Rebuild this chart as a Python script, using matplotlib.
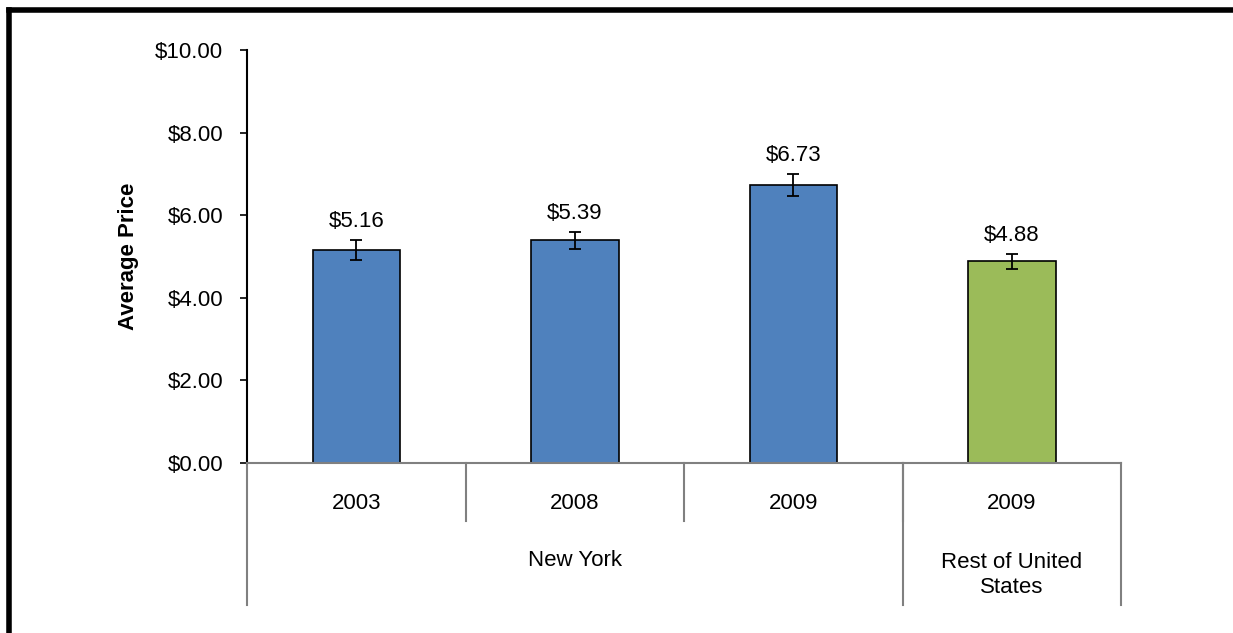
import numpy as np
import matplotlib.pyplot as plt
from matplotlib.lines import Line2D

plt.rcParams['font.family'] = ['Liberation Sans', 'DejaVu Sans']

years = ["2003", "2008", "2009", "2009"]
groups = ["New York", "Rest of United\nStates"]
group_sizes = [3, 1]
prices = [5.16, 5.39, 6.73, 4.88]
errors = [0.25, 0.20, 0.27, 0.19]
colors = ["#4F81BD", "#4F81BD", "#4F81BD", "#9BBB59"]

fig = plt.figure(figsize=(12.33, 6.33), dpi=100)
ax = fig.add_axes([0.2003, 0.2686, 0.709, 0.6524])

x = np.arange(len(prices))
ax.bar(x, prices, width=0.4, color=colors, edgecolor="black", linewidth=1.2, zorder=2)
ax.errorbar(x, prices, yerr=errors, fmt="none", ecolor="black", elinewidth=1.3,
            capsize=4, capthick=1.3, zorder=3)
for xi, p, e in zip(x, prices, errors):
    ax.annotate(f"${p:.2f}", (xi, p + e), xytext=(0, 5.5), textcoords="offset points",
                ha="center", va="bottom", fontsize=16)

ax.set_xlim(-0.5, len(prices) - 0.5)
ax.set_ylim(0, 10)
ax.set_yticks(np.arange(0, 10.01, 2))
ax.set_yticklabels([f"${v:.2f}" for v in np.arange(0, 10.01, 2)], fontsize=16)
ax.set_xticks([])
ax.tick_params(axis="y", direction="out", length=5, width=1.2, color="black", pad=12)

for s in ["top", "right"]:
    ax.spines[s].set_visible(False)
ax.spines["left"].set_color("black")
ax.spines["left"].set_linewidth(1.5)
ax.spines["bottom"].set_color("#808080")
ax.spines["bottom"].set_linewidth(1.5)

ax.set_ylabel("Average Price", fontsize=16, fontweight="bold", labelpad=12)

# category labels and separators below the axis
trans = ax.get_xaxis_transform()
for xi, y in zip(x, years):
    ax.text(xi, -0.099, y, transform=trans, ha="center", va="center", fontsize=16)
for b in np.arange(0.5, len(prices) - 1, 1.0):
    ax.add_line(Line2D([b, b], [0, -0.14], transform=trans, color="#808080",
                       linewidth=1.5, clip_on=False))

start = 0
edges = [-0.5]
for g, n in zip(groups, group_sizes):
    ax.text(start - 0.5 + n / 2, -0.235 if n > 1 else -0.272, g, transform=trans,
            ha="center", va="center", fontsize=16, linespacing=1.25)
    start += n
    edges.append(start - 0.5)
for e in edges:
    ax.add_line(Line2D([e, e], [0, -0.343], transform=trans, color="#808080",
                       linewidth=1.5, clip_on=False))

# outer frame (top and left edges)
fig.add_artist(Line2D([0.007, 1.0], [0.984, 0.984], transform=fig.transFigure,
                      color="black", linewidth=4))
fig.add_artist(Line2D([0.0073, 0.0073], [0.0, 0.984], transform=fig.transFigure,
                      color="black", linewidth=4))

fig.savefig("out.png", dpi=100)
